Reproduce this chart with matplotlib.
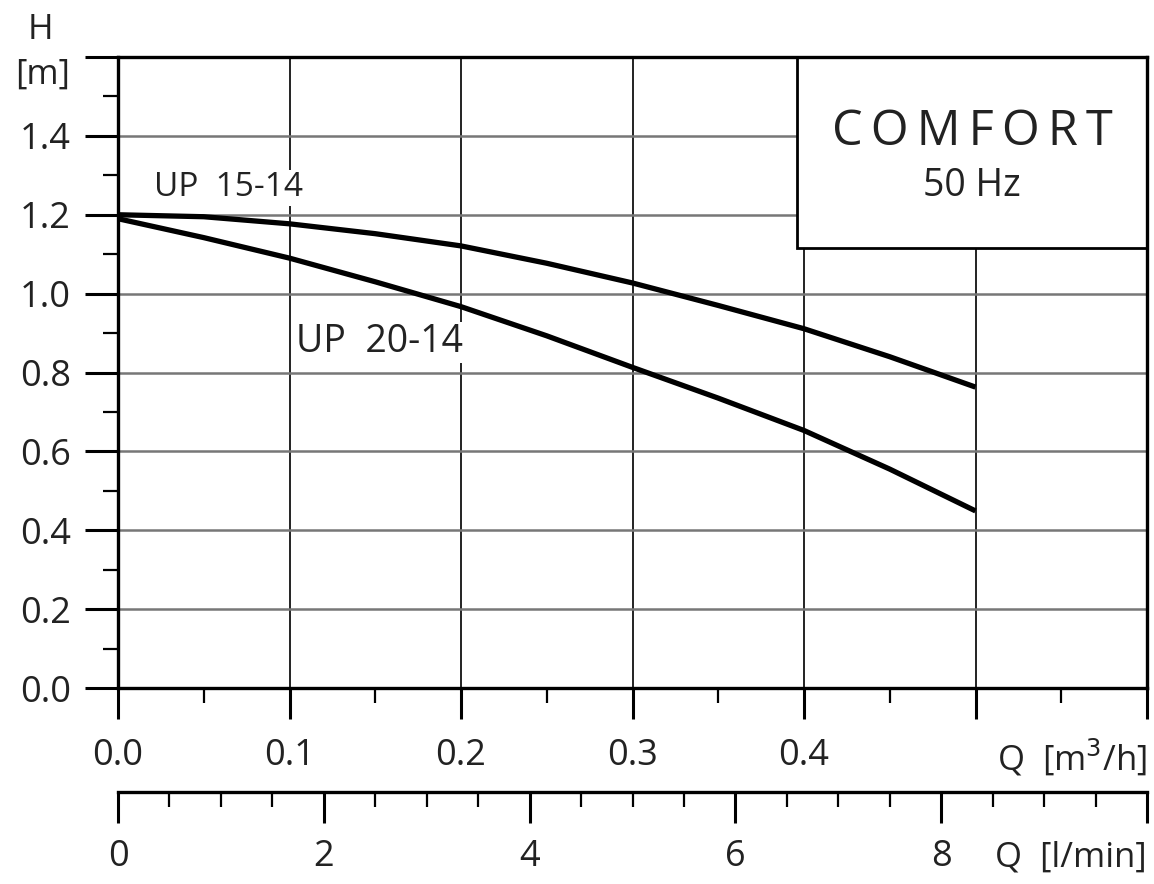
import matplotlib.pyplot as plt
from matplotlib.patches import Rectangle
from matplotlib.ticker import MultipleLocator, FixedLocator

plt.rcParams['font.family'] = ['Open Sans', 'DejaVu Sans']

# pump curves
flow = [0.0, 0.05, 0.1, 0.15, 0.2, 0.25, 0.3, 0.35, 0.4, 0.45, 0.5]
up15_14 = [1.20, 1.195, 1.177, 1.152, 1.121, 1.077, 1.027, 0.970, 0.911, 0.840, 0.763]
up20_14 = [1.19, 1.142, 1.090, 1.030, 0.967, 0.893, 0.813, 0.735, 0.653, 0.555, 0.449]

q_ticks = [0.0, 0.1, 0.2, 0.3, 0.4, 0.5, 0.6]
q_labels = ['0.0', '0.1', '0.2', '0.3', '0.4', '', '']
h_ticks = [0.0, 0.2, 0.4, 0.6, 0.8, 1.0, 1.2, 1.4, 1.6]
h_labels = ['0.0', '0.2', '0.4', '0.6', '0.8', '1.0', '1.2', '1.4', '']
l_ticks = [0, 2, 4, 6, 8, 10]
l_labels = ['0', '2', '4', '6', '8', '']

W, H = 1154, 884
fig = plt.figure(figsize=(W / 100, H / 100), dpi=100)
ax = fig.add_axes([118 / W, 1 - 688 / H, (1147 - 118) / W, (688 - 57) / H])
ax.set_xlim(0, 0.6)
ax.set_ylim(0, 1.6)

txt = '#222222'
ts = '\u2009'  # thin space for the wide letter spacing

# grid: black verticals, grey horizontals
for x in q_ticks[1:-1]:
    ax.axvline(x, color='#111111', lw=1.3, zorder=1)
for y in h_ticks[1:-1]:
    ax.axhline(y, color='#777777', lw=1.8, zorder=1)

ax.plot(flow, up15_14, color='black', lw=3.8, zorder=4, solid_capstyle='butt')
ax.plot(flow, up20_14, color='black', lw=3.8, zorder=4, solid_capstyle='butt')

ax.text(0.021, 1.268, 'UP  15-14', fontsize=24, color=txt, va='center', ha='left', zorder=3,
        bbox=dict(facecolor='white', edgecolor='none', pad=1))
ax.text(0.104, 0.877, 'UP  20-14', fontsize=27, color=txt, va='center', ha='left', zorder=3,
        bbox=dict(facecolor='white', edgecolor='none', pad=1))

# COMFORT box
box = Rectangle((0.396, 1.116), 0.6 - 0.396, 1.6 - 1.116, facecolor='white',
                edgecolor='black', lw=2, zorder=5, clip_on=False)
ax.add_patch(box)
ax.text(0.498, 1.41, ts.join('COMFORT'), fontsize=35, color=txt, ha='center', va='center', zorder=6)
ax.text(0.498, 1.273, '50 Hz', fontsize=27, color=txt, ha='center', va='center', zorder=6)

for s in ax.spines.values():
    s.set_linewidth(2.4)
    s.set_zorder(7)

ax.xaxis.set_major_locator(FixedLocator(q_ticks))
ax.set_xticklabels(q_labels)
ax.xaxis.set_minor_locator(MultipleLocator(0.05))
ax.yaxis.set_major_locator(FixedLocator(h_ticks))
ax.set_yticklabels(h_labels)
ax.yaxis.set_minor_locator(MultipleLocator(0.1))
ax.tick_params(axis='x', which='major', length=22, width=2.2, pad=14, labelsize=26, labelcolor=txt)
ax.tick_params(axis='x', which='minor', length=11, width=1.6)
ax.tick_params(axis='y', which='major', length=24, width=2.2, pad=10, labelsize=26, labelcolor=txt)
ax.tick_params(axis='y', which='minor', length=11, width=1.6)

# second flow scale in l/min
ax2 = ax.secondary_xaxis(-104 / 631, functions=(lambda q: q * 1000 / 60, lambda l: l * 60 / 1000))
ax2.xaxis.set_major_locator(FixedLocator(l_ticks))
ax2.set_xticklabels(l_labels)
ax2.xaxis.set_minor_locator(MultipleLocator(0.5))
ax2.spines['bottom'].set_linewidth(2.4)
ax2.tick_params(axis='x', which='major', length=22, width=2.2, pad=12, labelsize=26, labelcolor=txt)
ax2.tick_params(axis='x', which='minor', length=11, width=1.6)

fig.text(1147 / W, 1 - 758 / H, 'Q  [m$^3$/h]', fontsize=25, color=txt, ha='right', va='center')
fig.text(1147 / W, 1 - 858 / H, 'Q  [l/min]', fontsize=25, color=txt, ha='right', va='center')
fig.text(40 / W, 1 - 30 / H, 'H', fontsize=25, color=txt, ha='center', va='center')
fig.text(43 / W, 1 - 75 / H, '[m]', fontsize=25, color=txt, ha='center', va='center')

fig.savefig('out.png', dpi=100, facecolor='white')
